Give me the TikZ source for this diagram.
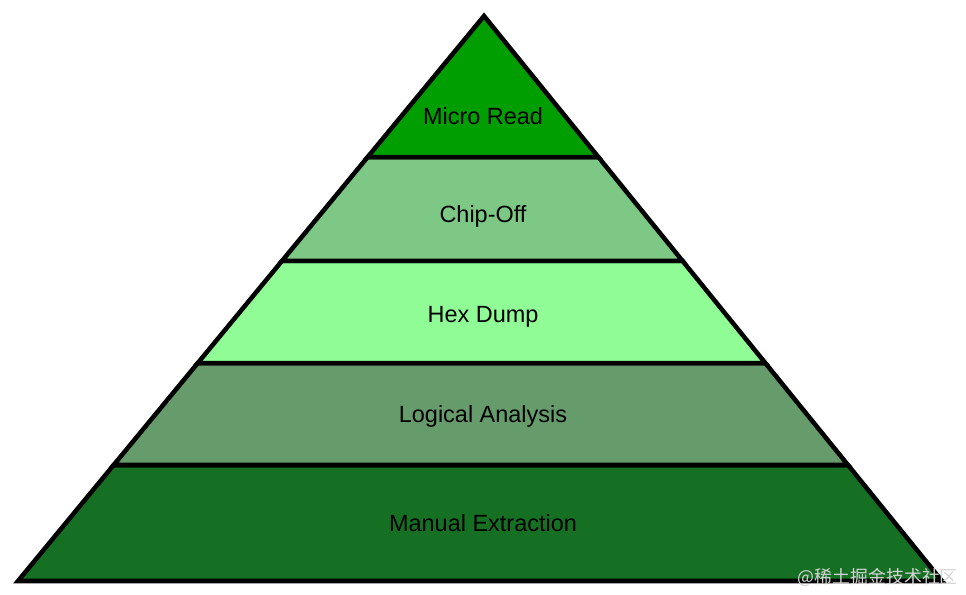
\documentclass[tikz,border=0pt]{standalone}
\usepackage{fontspec}
\setmainfont{Liberation Sans}
\newfontfamily\cjkfont{Noto Sans CJK SC}
\usetikzlibrary{calc}
\definecolor{microgreen}{RGB}{0,158,0}
\definecolor{chipgreen}{RGB}{124,200,132}
\definecolor{hexgreen}{RGB}{144,252,150}
\definecolor{logicgreen}{RGB}{102,156,108}
\definecolor{manualgreen}{RGB}{22,112,36}
\definecolor{markgray}{RGB}{212,212,212}

\begin{document}
\begin{tikzpicture}[x=0.75pt,y=-0.75pt,
          layer/.style={draw=black,line width=3.4pt,line join=miter},
          lbl/.style={font=\fontsize{17.6}{20}\selectfont,text=black,anchor=base}]
        \useasboundingbox (0,0) rectangle (966,595);
        \coordinate (top) at (484,16);
        \coordinate (bl) at (18,581);
        \coordinate (br) at (942,581);
        % layer borders, as fractions from apex to base
        \foreach \n/\t in {1/0.2496,2/0.4336,3/0.6142,4/0.7947}{
          \coordinate (l\n) at ($(top)!\t!(bl)$);
          \coordinate (r\n) at ($(top)!\t!(br)$);
        }
        \filldraw[layer,fill=manualgreen] (l4) -- (r4) -- (br) -- (bl) -- cycle;
        \filldraw[layer,fill=logicgreen] (l3) -- (r3) -- (r4) -- (l4) -- cycle;
        \filldraw[layer,fill=hexgreen] (l2) -- (r2) -- (r3) -- (l3) -- cycle;
        \filldraw[layer,fill=chipgreen] (l1) -- (r1) -- (r2) -- (l2) -- cycle;
        \filldraw[layer,fill=microgreen] (top) -- (r1) -- (l1) -- cycle;
        \node[lbl] (micro) at (483,124.4) {Micro Read};
        \node[lbl] (chip) at (483,222.4) {Chip-Off};
        \node[lbl] (hex) at (483,322.4) {Hex Dump};
        \node[lbl] (logic) at (483,422.4) {Logical Analysis};
        \node[lbl] (manual) at (483,531.4) {Manual Extraction};
        \node[font=\cjkfont\fontsize{13.4}{15}\selectfont,text=markgray,
              inner sep=0pt,anchor=east] (mark) at (958,577) {@稀土掘金技术社区};
      \end{tikzpicture}
\end{document}
